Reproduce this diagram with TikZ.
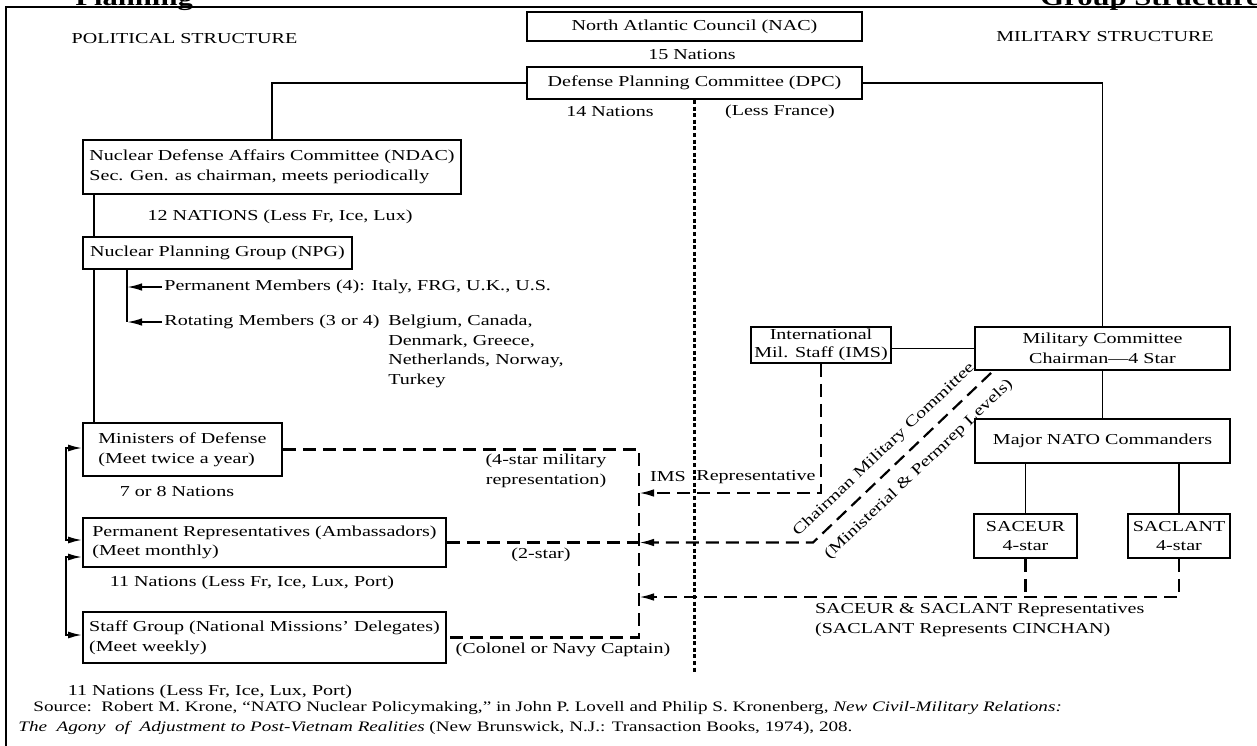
\documentclass[tikz,border=0pt]{standalone}
\usepackage{fontspec}
\setmainfont{Liberation Serif}[FakeStretch=1.32]
\usetikzlibrary{arrows.meta}

\begin{document}
\begin{tikzpicture}[x=0.5pt,y=-0.5pt,
  font=\fontsize{7.6}{9.8}\selectfont,
  every node/.style={align=center},
  box/.style={draw,line width=0.9pt,inner sep=1.5pt},
  lbox/.style={box,align=left},
  link/.style={line width=0.9pt},
  dashline/.style={line width=1.1pt,dash pattern=on 6.5pt off 3.5pt},
  dotline/.style={line width=1.2pt,dash pattern=on 2pt off 1.3pt},
  arr/.style={-{Latex[length=7.5pt,width=3.8pt]}},
  arrs/.style={{Latex[length=7pt,width=3.5pt]}-{Latex[length=7pt,width=3.5pt]}},
  srcfont/.style={font=\fontsize{7.25}{9.5}\selectfont}]
\useasboundingbox (0,0) rectangle (1257,745);
\node[anchor=base west,inner sep=0pt,font=\fontsize{11.6}{12}\selectfont\bfseries] (ttlA) at (75,5) {Planning};
\node[anchor=base west,inner sep=0pt,font=\fontsize{11.6}{12}\selectfont\bfseries] (ttlB) at (1040,5) {Group Structure};
\draw[line width=1.1pt] (6,7) rectangle (1265,752);
\node (pol) at (184.5,39) {POLITICAL STRUCTURE};
\node (mil) at (1105,37) {MILITARY STRUCTURE};
\node[box,minimum width=167.5pt,minimum height=14.5pt] (nac) at (694.5,26.5) {North Atlantic Council (NAC)};
\node (n15) at (692,55) {15 Nations};
\node[box,minimum width=167.5pt,minimum height=16pt] (dpc) at (694.5,83) {Defense Planning Committee (DPC)};
\node (n14) at (610,112) {14 Nations};
\node (lessfr) at (780,112) {(Less France)};
\node[lbox,minimum width=189pt,minimum height=27pt] (ndac) at (272,167) {Nuclear Defense Affairs Committee (NDAC)\\Sec. Gen. as chairman, meets periodically};
\node (n12) at (280,217) {12 NATIONS (Less Fr, Ice, Lux)};
\node[box,minimum width=134.5pt,minimum height=16pt] (npg) at (217.5,253) {Nuclear Planning Group (NPG)};
\node[anchor=west,inner sep=1pt] (perm) at (162,287) {Permanent Members (4): Italy, FRG, U.K., U.S.};
\node[anchor=west,inner sep=1pt] (rot) at (162,322) {Rotating Members (3 or 4)};
\node[anchor=north west,align=left,inner sep=1pt,xshift=2pt] (rotlist) at (rot.north east) {Belgium, Canada,\\Denmark, Greece,\\Netherlands, Norway,\\Turkey};
\node[box,align=left,minimum width=99.5pt,minimum height=26.5pt] (mod) at (182.5,449.5) {Ministers of Defense\\(Meet twice a year)};
\node (n78) at (177,492) {7 or 8 Nations};
\node[lbox,minimum width=181.5pt,minimum height=24.5pt] (permrep) at (264.5,542.5) {Permanent Representatives (Ambassadors)\\(Meet monthly)};
\node (n11a) at (252,583) {11 Nations (Less Fr, Ice, Lux, Port)};
\node[lbox,minimum width=181.5pt,minimum height=25.5pt] (staff) at (264.5,637.5) {Staff Group (National Missions' Delegates)\\(Meet weekly)};
\node (n11b) at (210,692) {11 Nations (Less Fr, Ice, Lux, Port)};
\node[box,minimum width=70pt,minimum height=18pt,inner ysep=0.5pt,font=\fontsize{7.6}{9}\selectfont] (ims) at (821,345) {International\\Mil. Staff (IMS)};
\node[box,minimum width=127.5pt,minimum height=21.5pt] (mc) at (1102.5,348.5) {Military Committee\\Chairman---4 Star};
\node[box,minimum width=127.5pt,minimum height=22pt] (mnc) at (1102.5,441) {Major NATO Commanders};
\node[box,minimum width=51.5pt,minimum height=22pt] (saceur) at (1025.5,536) {SACEUR\\4-star};
\node[box,minimum width=51pt,minimum height=22pt] (saclant) at (1179,536) {SACLANT\\4-star};
\node (rep4) at (546,471) {(4-star military\\representation)};
\node (imslab) at (668,477) {IMS};
\node (replab) at (756,477) {Representative};
\node (star2) at (541,555) {(2-star)};
\node (colnav) at (563,650) {(Colonel or Navy Captain)};
\node[anchor=west,align=left] (sacrep) at (808,620) {SACEUR \& SACLANT Representatives\\(SACLANT Represents CINCHAN)};
\node[rotate=43.6] (cmc) at (884,450) {Chairman Military Committee};
\node[rotate=43.6] (minlev) at (919,469.5) {(Ministerial \& Permrep Levels)};
\node[anchor=west,inner sep=0pt,srcfont] (srcA) at (33,708) {Source:\ \ Robert M. Krone, ``NATO Nuclear Policymaking,'' in John P. Lovell and Philip S. Kronenberg, \textit{New Civil-Military Relations:}};
\node[anchor=west,inner sep=0pt,srcfont] (srcB) at (18,728) {\textit{The\ \ Agony\ \ of\ \ Adjustment to Post-Vietnam Realities} (New Brunswick, N.J.: Transaction Books, 1974), 208.};
\coordinate (dotend) at (694.5,673);
\coordinate (npgtap) at ([xshift=22.5pt]npg.south west);
\coordinate (bus) at (639,542.5);
\coordinate (diagfoot) at (813,542.5);
\coordinate (imsin) at (639,493);
\coordinate (sacin) at (639,597);
\draw[link] (dpc.west) -| (ndac.north);
\draw[link] (dpc.east) -| (mc.north);
\draw[link] ([xshift=6pt]ndac.south west) -- ([xshift=6pt]npg.north west);
\draw[link] ([xshift=6pt]npg.south west) -- ([xshift=6pt]mod.north west);
\draw[link] (npgtap) -- (rot.west -| npgtap);
\draw[link,arr] (perm.west) -- (perm.west -| npgtap);
\draw[link,arr] (rot.west) -- (rot.west -| npgtap);
\draw[link,arrs] ([yshift=0.75pt]mod.west) -- ++(-8pt,0) |- ([yshift=1.25pt]permrep.west);
\draw[link,arrs] ([yshift=-7.25pt]permrep.west) -- ++(-8pt,0) |- ([yshift=1.25pt]staff.west);
\draw[link] (mc.west) -- (mc.west -| ims.east);
\draw[link] (mc.south) -- (mnc.north);
\draw[link] (mnc.south -| saceur.north) -- (saceur.north);
\draw[link] (mnc.south -| saclant.north) -- (saclant.north);
\draw[dotline] (dpc.south) -- (dotend);
\draw[dashline] (mod.east) -| (bus) |- (staff.east);
\draw[dashline] (permrep.east) -- (bus);
\draw[dashline,arr] ([xshift=8.5pt,yshift=-1pt]mc.south west) -- (diagfoot) -- (bus);
\draw[dashline,arr] (ims.south) |- (imsin);
\draw[dashline,arr] (saclant.south) |- (sacin);
\draw[dashline] (saceur.south) -- (saceur.south |- sacin);
\end{tikzpicture}
\end{document}
